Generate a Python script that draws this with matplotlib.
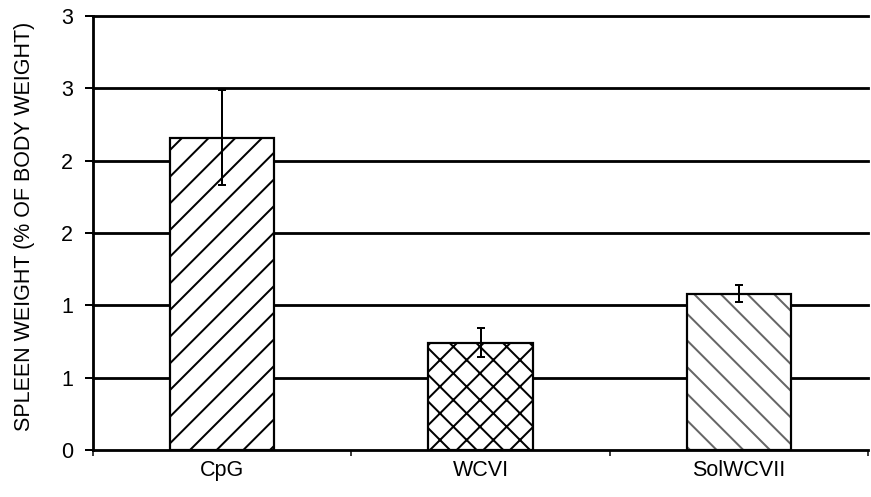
import matplotlib
matplotlib.use('Agg')
import matplotlib.pyplot as plt
import numpy as np

# data
groups = ['CpG', 'WCVI', 'SolWCVII']
spleen_pct = [2.16, 0.74, 1.08]
spleen_err = [0.33, 0.10, 0.06]
hatches = ['//', 'xx', '\\\\']
ytick_vals = [0, 0.5, 1, 1.5, 2, 2.5, 3]
ytick_labels = ['0', '1', '1', '2', '2', '3', '3']

DPI = 160
px = 72.0 / DPI  # one pixel in points
FS = 9.7

plt.rcParams['font.family'] = ['Liberation Sans', 'DejaVu Sans']
plt.rcParams['hatch.linewidth'] = 2 * px

fig = plt.figure(figsize=(871 / DPI, 497 / DPI), dpi=DPI)
ax = fig.add_axes([93 / 871, 1 - 450 / 497, (868 - 93) / 871, (450 - 16) / 497])

x = np.arange(len(groups))
# hatch layer (SolWCVII gets a lighter, "dotted" looking hatch)
for i in range(len(groups)):
    hc = '#666666' if i == 2 else 'black'
    ax.bar(x[i], spleen_pct[i], width=0.405, color='white', edgecolor=hc,
           hatch=hatches[i], linewidth=0, zorder=2)
# outline layer
ax.bar(x, spleen_pct, width=0.405, color='none', edgecolor='black',
       linewidth=2.2 * px, zorder=3)
ax.errorbar(x, spleen_pct, yerr=spleen_err, fmt='none', ecolor='black',
            elinewidth=2 * px, capsize=4 * px, capthick=2 * px, zorder=4)

ax.set_xlim(-0.5, 2.5)
ax.set_ylim(0, 3)
ax.set_yticks(ytick_vals)
ax.set_yticklabels(ytick_labels)
ax.set_xticks(x)
ax.set_xticklabels(groups)
ax.set_xticks([-0.5, 0.5, 1.5, 2.5], minor=True)

ax.tick_params(axis='y', direction='out', length=8 * px, width=2 * px,
               pad=12 * px, labelsize=FS)
ax.tick_params(axis='x', which='major', length=0, pad=10 * px, labelsize=FS)
ax.tick_params(axis='x', which='minor', direction='out', length=6 * px, width=1.5 * px)

ax.yaxis.grid(True, color='black', linewidth=2.8 * px)
ax.set_axisbelow(True)
for side in ['top', 'right', 'bottom']:
    ax.spines[side].set_visible(False)
ax.spines['left'].set_linewidth(2.8 * px)
for gl in ax.get_ygridlines():
    gl.set_clip_on(False)

fig.text(25 / 871, 1 - 226 / 497, 'SPLEEN WEIGHT (% OF BODY WEIGHT)',
         rotation=90, ha='center', va='center', fontsize=FS)

fig.savefig('out.png', dpi=DPI)
